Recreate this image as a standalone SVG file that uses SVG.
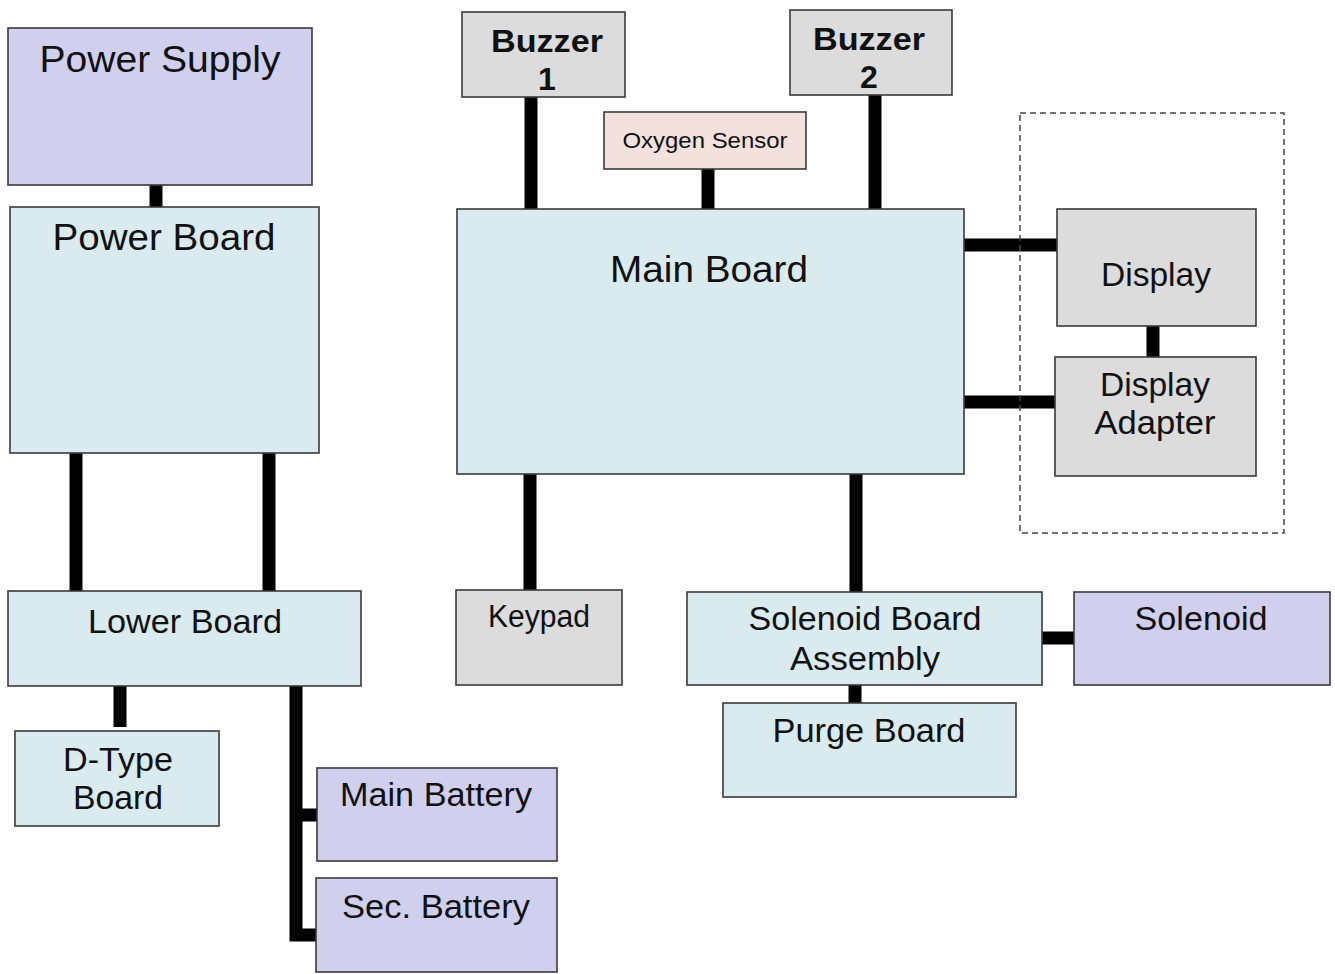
<svg xmlns="http://www.w3.org/2000/svg" width="1335" height="974" viewBox="0 0 1335 974">
<style>
.box{stroke:#3a3a3a;stroke-width:1.6}
.lav{fill:#d0d0ee}
.cyan{fill:#d9ebee}
.gray{fill:#dcdcdc}
.pink{fill:#f2e1dd}
.t{font-family:"Liberation Sans",Arial,sans-serif;fill:#111;text-anchor:middle}
.b{font-weight:bold}
.c{stroke:#000;stroke-width:13;fill:none}
</style>
<rect width="1335" height="974" fill="#fff"/>
<g id="connectors">
<line class="c" x1="156" y1="185" x2="156" y2="207"/>
<line class="c" x1="76" y1="453" x2="76" y2="591"/>
<line class="c" x1="269" y1="453" x2="269" y2="591"/>
<line class="c" x1="120" y1="686" x2="120" y2="727"/>
<polyline class="c" points="296,686 296,935 317,935"/>
<line class="c" x1="296" y1="815" x2="317" y2="815"/>
<line class="c" x1="531" y1="97" x2="531" y2="209"/>
<line class="c" x1="708" y1="169" x2="708" y2="209"/>
<line class="c" x1="875" y1="95" x2="875" y2="209"/>
<line class="c" x1="964" y1="245" x2="1057" y2="245"/>
<line class="c" x1="964" y1="402" x2="1055" y2="402"/>
<line class="c" x1="1153" y1="326" x2="1153" y2="357"/>
<line class="c" x1="530" y1="474" x2="530" y2="590"/>
<line class="c" x1="856" y1="474" x2="856" y2="592"/>
<line class="c" x1="1042" y1="638" x2="1074" y2="638"/>
<line class="c" x1="855" y1="685" x2="855" y2="703"/>
</g>
<g id="display-group">
<rect x="1020" y="113" width="264" height="420" fill="none" stroke="#444" stroke-width="1.5" stroke-dasharray="6,4"/>
</g>
<g id="power-supply">
<rect class="box lav" x="8" y="28" width="304" height="157"/>
<text class="t" x="160" y="72" font-size="36" textLength="241" lengthAdjust="spacingAndGlyphs">Power Supply</text>
</g>
<g id="power-board">
<rect class="box cyan" x="10" y="207" width="309" height="246"/>
<text class="t" x="164" y="250" font-size="36" textLength="223" lengthAdjust="spacingAndGlyphs">Power Board</text>
</g>
<g id="lower-board">
<rect class="box cyan" x="8" y="591" width="353" height="95"/>
<text class="t" x="185" y="633" font-size="33" textLength="194" lengthAdjust="spacingAndGlyphs">Lower Board</text>
</g>
<g id="d-type-board">
<rect class="box cyan" x="15" y="731" width="204" height="95"/>
<text class="t" x="118" y="771" font-size="33" textLength="110" lengthAdjust="spacingAndGlyphs">D-Type</text>
<text class="t" x="118" y="809" font-size="33" textLength="90" lengthAdjust="spacingAndGlyphs">Board</text>
</g>
<g id="main-battery">
<rect class="box lav" x="317" y="768" width="240" height="93"/>
<text class="t" x="436" y="806" font-size="33" textLength="192" lengthAdjust="spacingAndGlyphs">Main Battery</text>
</g>
<g id="sec-battery">
<rect class="box lav" x="316" y="878" width="241" height="94"/>
<text class="t" x="436" y="918" font-size="33" textLength="188" lengthAdjust="spacingAndGlyphs">Sec. Battery</text>
</g>
<g id="buzzer-1">
<rect class="box gray" x="462" y="12" width="163" height="85"/>
<text class="t b" x="547" y="52" font-size="32" textLength="112" lengthAdjust="spacingAndGlyphs">Buzzer</text>
<text class="t b" x="547" y="90" font-size="32">1</text>
</g>
<g id="oxygen-sensor">
<rect class="box pink" x="604" y="112" width="202" height="57"/>
<text class="t" x="705" y="148" font-size="22" textLength="165" lengthAdjust="spacingAndGlyphs" fill="#333">Oxygen Sensor</text>
</g>
<g id="buzzer-2">
<rect class="box gray" x="790" y="10" width="162" height="85"/>
<text class="t b" x="869" y="50" font-size="32" textLength="112" lengthAdjust="spacingAndGlyphs">Buzzer</text>
<text class="t b" x="869" y="88" font-size="32">2</text>
</g>
<g id="main-board">
<rect class="box cyan" x="457" y="209" width="507" height="265"/>
<text class="t" x="709" y="282" font-size="36" textLength="198" lengthAdjust="spacingAndGlyphs">Main Board</text>
</g>
<g id="display">
<rect class="box gray" x="1057" y="209" width="199" height="117"/>
<text class="t" x="1156" y="286" font-size="33" textLength="110" lengthAdjust="spacingAndGlyphs">Display</text>
</g>
<g id="display-adapter">
<rect class="box gray" x="1055" y="357" width="201" height="119"/>
<text class="t" x="1155" y="396" font-size="33" textLength="110" lengthAdjust="spacingAndGlyphs">Display</text>
<text class="t" x="1155" y="434" font-size="33" textLength="121" lengthAdjust="spacingAndGlyphs">Adapter</text>
</g>
<g id="keypad">
<rect class="box gray" x="456" y="590" width="166" height="95"/>
<text class="t" x="539" y="627" font-size="31" textLength="102" lengthAdjust="spacingAndGlyphs">Keypad</text>
</g>
<g id="solenoid-board-assembly">
<rect class="box cyan" x="687" y="592" width="355" height="93"/>
<text class="t" x="865" y="630" font-size="33" textLength="233" lengthAdjust="spacingAndGlyphs">Solenoid Board</text>
<text class="t" x="865" y="670" font-size="33" textLength="150" lengthAdjust="spacingAndGlyphs">Assembly</text>
</g>
<g id="solenoid">
<rect class="box lav" x="1074" y="592" width="256" height="93"/>
<text class="t" x="1201" y="630" font-size="33" textLength="133" lengthAdjust="spacingAndGlyphs">Solenoid</text>
</g>
<g id="purge-board">
<rect class="box cyan" x="723" y="703" width="293" height="94"/>
<text class="t" x="869" y="742" font-size="33" textLength="193" lengthAdjust="spacingAndGlyphs">Purge Board</text>
</g>
</svg>
